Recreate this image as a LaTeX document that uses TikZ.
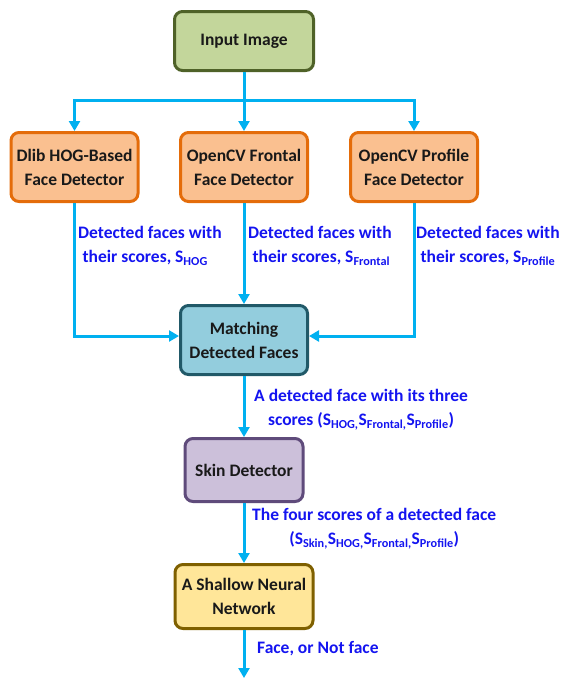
\documentclass[tikz,border=0pt]{standalone}
\usepackage{fontspec}
\setmainfont{Carlito}
\usetikzlibrary{arrows.meta}
\definecolor{arrowblue}{HTML}{00B0F0}
\definecolor{lblblue}{RGB}{20,20,240}
\definecolor{greenfill}{HTML}{C3D69B}
\definecolor{greenline}{HTML}{4F6228}
\definecolor{orangefill}{HTML}{FAC090}
\definecolor{orangeline}{HTML}{E46C0A}
\definecolor{tealfill}{HTML}{93CDDD}
\definecolor{tealline}{HTML}{215968}
\definecolor{purplefill}{HTML}{CCC0DA}
\definecolor{purpleline}{HTML}{5F4B7B}
\definecolor{yellowfill}{HTML}{FFE699}
\definecolor{yellowline}{HTML}{7F6000}
\newcommand{\sbs}[1]{\textsubscript{#1}}
\begin{document}
\begin{tikzpicture}[x=1pt,y=-1pt,
  font=\fontsize{17.5}{24}\selectfont\bfseries,
  box/.style={line width=3pt, rounded corners=8pt, align=center, inner sep=0pt, text=black!90},
  flow/.style={draw=arrowblue, line width=3pt, -{Triangle[length=10pt,width=11pt]}},
  lbl/.style={text=lblblue, inner sep=0pt}]
\useasboundingbox (0,0) rectangle (563,678);

\node[box, draw=greenline, fill=greenfill, minimum width=139pt, minimum height=59pt] (in) at (244,41) {Input Image};
\node[box, draw=orangeline, fill=orangefill, minimum width=127pt, minimum height=69pt] (d1) at (74.5,167) {Dlib HOG-Based\\Face Detector};
\node[box, draw=orangeline, fill=orangefill, minimum width=127pt, minimum height=69pt] (d2) at (244,167) {OpenCV Frontal\\Face Detector};
\node[box, draw=orangeline, fill=orangefill, minimum width=127pt, minimum height=69pt] (d3) at (414,167) {OpenCV Profile\\Face Detector};
\node[box, draw=tealline, fill=tealfill, minimum width=127pt, minimum height=69pt] (match) at (244,340) {Matching\\Detected Faces};
\node[box, draw=purpleline, fill=purplefill, minimum width=118pt, minimum height=63pt] (skin) at (244,470) {Skin Detector};
\node[box, draw=yellowline, fill=yellowfill, minimum width=138pt, minimum height=64pt] (nn) at (244,596.5) {A Shallow Neural\\Network};

\coordinate (branch) at (244,100);
\coordinate (out) at (244,678);

\draw[flow] (in.south) -- (d2.north);
\draw[flow] (branch) -| (d1.north);
\draw[flow] (branch) -| (d3.north);
\draw[flow] (d1.south) |- ([yshift=4pt]match.west);
\draw[flow] (d3.south) |- ([yshift=4pt]match.east);
\draw[flow] (d2.south) -- (match.north);
\draw[flow] (match.south) -- (skin.north);
\draw[flow] (skin.south) -- (nn.north);
\draw[flow] (nn.south) -- (out);

\node[lbl, align=left, anchor=west] (l1) at (78,246) {Detected faces with\\ \hspace*{0.25em}their scores, S\sbs{HOG}};
\node[lbl, align=left, anchor=west] (l2) at (248,246) {Detected faces with\\ \hspace*{0.25em}their scores, S\sbs{Frontal}};
\node[lbl, align=left, anchor=west] (l3) at (416,246) {Detected faces with\\ \hspace*{0.25em}their scores, S\sbs{Profile}};
\node[lbl, align=center, anchor=west] (l4) at (254,409.5) {A detected face with its three\\scores (S\sbs{HOG,}S\sbs{Frontal,}S\sbs{Profile})};
\node[lbl, align=center, anchor=west] (l5) at (252,529) {The four scores of a detected face\\(S\sbs{Skin,}S\sbs{HOG,}S\sbs{Frontal,}S\sbs{Profile})};
\node[lbl, anchor=west] (l6) at (257,649) {Face, or Not face};
\end{tikzpicture}
\end{document}
